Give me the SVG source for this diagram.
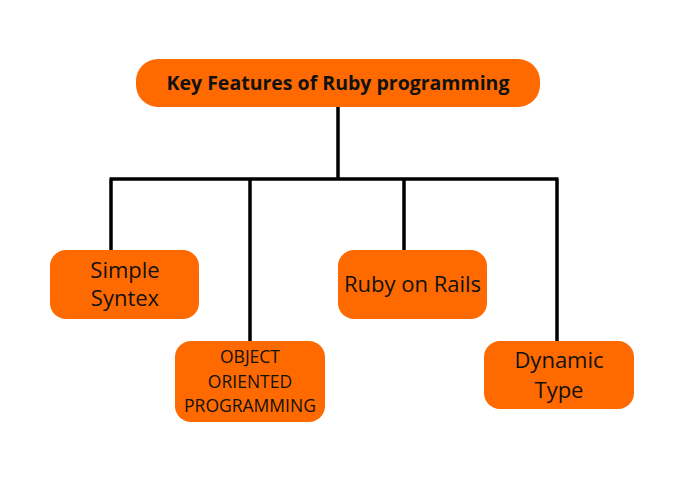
<svg xmlns="http://www.w3.org/2000/svg" width="700" height="500" viewBox="0 0 700 500">
<style>
.box{fill:#ff6a00}
.t{font-family:"Open Sans","Liberation Sans",sans-serif;fill:#111;text-anchor:middle}
.lbl{font-size:22px}
.small{font-size:17.5px}
.title{font-size:19.5px;font-weight:bold}
.ln{stroke:#000;stroke-width:3.5;fill:none}
</style>
<rect width="700" height="500" fill="#fff"/>
<g id="connectors">
<path class="ln" d="M338 106V179M109.5 179H558.5M111 179V251M250 179V342M404 179V251M557 179V342"/>
</g>
<g id="root">
<rect class="box" x="136" y="59" width="404" height="48" rx="22"/>
<text class="t title" x="338" y="90">Key Features of Ruby programming</text>
</g>
<g id="simple">
<rect class="box" x="50" y="250" width="149" height="69" rx="16"/>
<text class="t lbl" x="125" y="278">Simple</text>
<text class="t lbl" x="125" y="306">Syntex</text>
</g>
<g id="oop">
<rect class="box" x="175" y="341" width="150" height="81" rx="16"/>
<text class="t small" x="250" y="363">OBJECT</text>
<text class="t small" x="250" y="388">ORIENTED</text>
<text class="t small" x="250" y="412">PROGRAMMING</text>
</g>
<g id="rails">
<rect class="box" x="338" y="250" width="149" height="69" rx="16"/>
<text class="t lbl" x="412.5" y="292">Ruby on Rails</text>
</g>
<g id="dynamic">
<rect class="box" x="484" y="341" width="150" height="68" rx="16"/>
<text class="t lbl" x="559" y="368">Dynamic</text>
<text class="t lbl" x="559" y="398">Type</text>
</g>
</svg>
